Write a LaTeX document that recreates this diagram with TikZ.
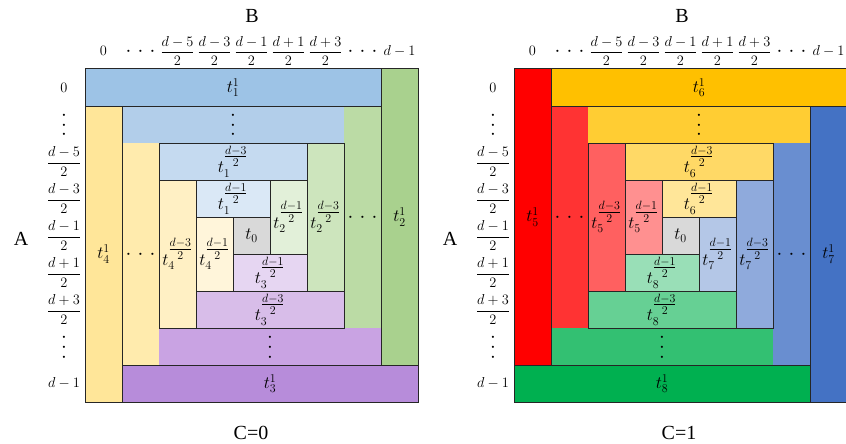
\documentclass[tikz,border=0pt]{standalone}
\usepackage{amsmath}
\usepackage{fontspec}
\newfontfamily\tnr{Liberation Serif}
% left colours
\definecolor{bA}{HTML}{9DC3E6}\definecolor{bB}{HTML}{B2CEEA}\definecolor{bC}{HTML}{C5DAF0}\definecolor{bD}{HTML}{DAE8F6}
\definecolor{gA}{HTML}{A9D18E}\definecolor{gB}{HTML}{BBDBA5}\definecolor{gC}{HTML}{CDE5BD}\definecolor{gD}{HTML}{E2F0D9}
\definecolor{pA}{HTML}{B78CDA}\definecolor{pB}{HTML}{C9A3E3}\definecolor{pC}{HTML}{D8BDE9}\definecolor{pD}{HTML}{E6D6F2}
\definecolor{yA}{HTML}{FFE699}\definecolor{yB}{HTML}{FFEBAD}\definecolor{yC}{HTML}{FFF0C4}\definecolor{yD}{HTML}{FFF5DA}
\definecolor{gr}{HTML}{D9D9D9}
% right colours
\definecolor{rA}{HTML}{FF0000}\definecolor{rB}{HTML}{FF3333}\definecolor{rC}{HTML}{FF6060}\definecolor{rD}{HTML}{FF9090}
\definecolor{oA}{HTML}{FFC000}\definecolor{oB}{HTML}{FFCD33}\definecolor{oC}{HTML}{FFD966}\definecolor{oD}{HTML}{FFE699}
\definecolor{kA}{HTML}{4472C4}\definecolor{kB}{HTML}{698ED0}\definecolor{kC}{HTML}{8FAADC}\definecolor{kD}{HTML}{B4C7E7}
\definecolor{eA}{HTML}{00B050}\definecolor{eB}{HTML}{33C072}\definecolor{eC}{HTML}{66D094}\definecolor{eD}{HTML}{99DFB7}
\newcommand\dt{\hbox to 6pt{\hss\smash{\lower5.5pt\hbox{$\cdot$}}\hss}}
\newcommand\hd{{\fontsize{22}{22}\selectfont\hbox{\dt\kern6pt\dt\kern6pt\dt}}}
\newcommand\vd{{\fontsize{22}{22}\selectfont\vbox{\baselineskip=10pt\lineskiplimit=-\maxdimen\dt\dt\dt}}}
\newcommand\sfr[1]{\genfrac{}{}{}{1}{#1}{2}}
\newcommand\blk[8]{\node[cellbox, fill=#7, minimum width=#5*37pt, minimum height=#6*37pt, anchor=north west] (#1) at ({#2+#3*37},{69+#4*37}) {};
  \node[celltxt] (#1t) at (#1.center) {#8};}
\begin{document}
\begin{tikzpicture}[x=1pt,y=-1pt,
  cellbox/.style={inner sep=0pt, outer sep=0pt},
  celltxt/.style={inner sep=0pt, font=\fontsize{17}{19}\selectfont},
  bord/.style={draw=black!85, line width=1pt},
  lbl/.style={inner sep=0pt, font=\fontsize{15}{17}\selectfont},
  big/.style={inner sep=0pt, font=\tnr\fontsize{20}{22}\selectfont}]
\useasboundingbox (0,0) rectangle (846,444);
% ---------- left panel (C=0) ----------
\blk{lb2}{85}{1}{1}{6}{1}{bB}{\vd}
\blk{lg2}{85}{7}{1}{1}{6}{gB}{\hd}
\blk{lp2}{85}{2}{7}{6}{1}{pB}{\vd}
\blk{ly2}{85}{1}{2}{1}{6}{yB}{\hd}
\blk{lt1}{85}{0}{0}{8}{1}{bA}{$t_1^1$}
\blk{lt2}{85}{8}{0}{1}{8}{gA}{$t_2^1$}
\blk{lt3}{85}{1}{8}{8}{1}{pA}{$t_3^1$}
\blk{lt4}{85}{0}{1}{1}{8}{yA}{$t_4^1$}
\blk{lu1}{85}{2}{2}{4}{1}{bC}{$t_1^{\sfr{d-3}}$}
\blk{lu2}{85}{6}{2}{1}{4}{gC}{$t_2^{\sfr{d-3}}$}
\blk{lu3}{85}{3}{6}{4}{1}{pC}{$t_3^{\sfr{d-3}}$}
\blk{lu4}{85}{2}{3}{1}{4}{yC}{$t_4^{\sfr{d-3}}$}
\blk{lv1}{85}{3}{3}{2}{1}{bD}{$t_1^{\sfr{d-1}}$}
\blk{lv2}{85}{5}{3}{1}{2}{gD}{$t_2^{\sfr{d-1}}$}
\blk{lv3}{85}{4}{5}{2}{1}{pD}{$t_3^{\sfr{d-1}}$}
\blk{lv4}{85}{3}{4}{1}{2}{yD}{$t_4^{\sfr{d-1}}$}
\blk{l0}{85}{4}{4}{1}{1}{gr}{$t_0$}
\foreach \n in {lt1,lt2,lt3,lt4,lu1,lu2,lu3,lu4,lv1,lv2,lv3,lv4,l0}
  \draw[bord] (\n.north west) rectangle (\n.south east);
% ---------- right panel (C=1) ----------
\blk{r5b}{514}{1}{1}{1}{6}{rB}{\hd}
\blk{r6b}{514}{2}{1}{6}{1}{oB}{\vd}
\blk{r7b}{514}{7}{2}{1}{6}{kB}{\hd}
\blk{r8b}{514}{1}{7}{6}{1}{eB}{\vd}
\blk{rt5}{514}{0}{0}{1}{8}{rA}{$t_5^1$}
\blk{rt6}{514}{1}{0}{8}{1}{oA}{$t_6^1$}
\blk{rt7}{514}{8}{1}{1}{8}{kA}{$t_7^1$}
\blk{rt8}{514}{0}{8}{8}{1}{eA}{$t_8^1$}
\blk{ru5}{514}{2}{2}{1}{4}{rC}{$t_5^{\sfr{d-3}}$}
\blk{ru6}{514}{3}{2}{4}{1}{oC}{$t_6^{\sfr{d-3}}$}
\blk{ru7}{514}{6}{3}{1}{4}{kC}{$t_7^{\sfr{d-3}}$}
\blk{ru8}{514}{2}{6}{4}{1}{eC}{$t_8^{\sfr{d-3}}$}
\blk{rv5}{514}{3}{3}{1}{2}{rD}{$t_5^{\sfr{d-1}}$}
\blk{rv6}{514}{4}{3}{2}{1}{oD}{$t_6^{\sfr{d-1}}$}
\blk{rv7}{514}{5}{4}{1}{2}{kD}{$t_7^{\sfr{d-1}}$}
\blk{rv8}{514}{3}{5}{2}{1}{eD}{$t_8^{\sfr{d-1}}$}
\blk{r0}{514}{4}{4}{1}{1}{gr}{$t_0$}
\foreach \n in {rt5,rt6,rt7,rt8,ru5,ru6,ru7,ru8,rv5,rv6,rv7,rv8,r0}
  \draw[bord] (\n.north west) rectangle (\n.south east);
% ---------- axis labels ----------
\foreach \x/\p in {85/l,514/r}{
  \foreach \lab [count=\i from 0] in {{$0$},{\hd},{$\dfrac{d-5}{2}$},{$\dfrac{d-3}{2}$},{$\dfrac{d-1}{2}$},{$\dfrac{d+1}{2}$},{$\dfrac{d+3}{2}$},{\hd},{$d-1$}}
    \node[lbl] (\p c\i) at ({\x+18.5+37*\i},51) {\lab};
  \foreach \lab [count=\i from 0] in {{$0$},{\vd},{$\dfrac{d-5}{2}$},{$\dfrac{d-3}{2}$},{$\dfrac{d-1}{2}$},{$\dfrac{d+1}{2}$},{$\dfrac{d+3}{2}$},{\vd},{$d-1$}}
    \node[lbl] (\p r\i) at ({\x-21},{87.5+37*\i}) {\lab};
}
\node[big] (lB) at (252,16) {B};
\node[big] (lA) at (21,239) {A};
\node[big] (lC) at (251,433) {C=0};
\node[big] (rB) at (682,16) {B};
\node[big] (rA) at (450,239) {A};
\node[big] (rC) at (679,433) {C=1};
\end{tikzpicture}
\end{document}
